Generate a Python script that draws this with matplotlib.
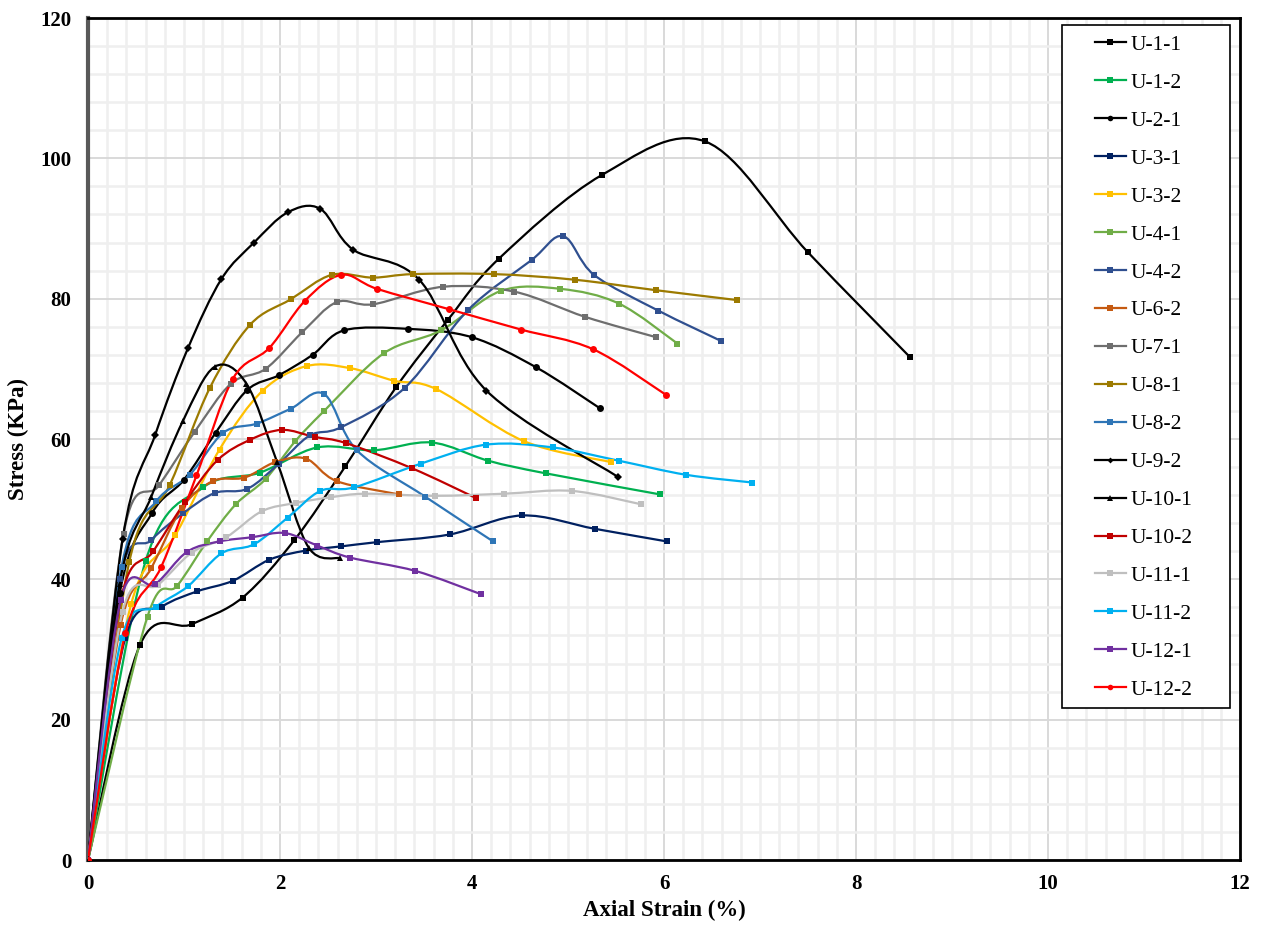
"""Stress vs axial strain curves for the U-series samples"""

import numpy as np
import matplotlib
matplotlib.use("Agg")
import matplotlib.pyplot as plt
from matplotlib.path import Path
from matplotlib.patches import PathPatch, Rectangle
from matplotlib.lines import Line2D
from matplotlib.ticker import MultipleLocator

# ---- data (strain %, stress kPa) ----
u1_1_x = [0, 0.54, 1.08, 1.61, 2.15, 2.68, 3.21, 3.75, 4.28, 5.35, 6.43, 7.50, 8.56]
u1_1_y = [0, 30.6, 33.6, 37.4, 45.6, 56.1, 67.4, 77.0, 85.7, 97.6, 102.4, 86.6, 71.7]

u1_2_x = [0, 0.60, 1.20, 1.79, 2.39, 2.98, 3.58, 4.17, 4.77, 5.96]
u1_2_y = [0, 42.6, 53.1, 55.2, 58.8, 58.4, 59.5, 56.9, 55.1, 52.1]

u2_1_x = [0, 0.33, 0.67, 1.00, 1.33, 1.66, 1.99, 2.34, 2.67, 3.33, 4.00, 4.67, 5.33]
u2_1_y = [0, 38.0, 49.5, 54.2, 60.9, 67.0, 69.1, 72.0, 75.5, 75.7, 74.5, 70.2, 64.4]

u3_1_x = [0, 0.39, 0.77, 1.14, 1.51, 1.89, 2.27, 2.64, 3.01, 3.77, 4.52, 5.28, 6.03]
u3_1_y = [0, 31.7, 36.1, 38.3, 39.8, 42.8, 44.1, 44.7, 45.3, 46.4, 49.1, 47.2, 45.4]

u3_2_x = [0, 0.45, 0.91, 1.37, 1.82, 2.28, 2.73, 3.19, 3.63, 4.54, 5.45]
u3_2_y = [0, 36.5, 46.3, 58.5, 66.9, 70.4, 70.1, 68.3, 67.1, 59.7, 56.7]

u4_1_x = [0, 0.62, 0.93, 1.24, 1.54, 1.85, 2.16, 2.46, 3.08, 3.68, 4.30, 4.92, 5.53, 6.14]
u4_1_y = [0, 34.7, 39.1, 45.4, 50.7, 54.3, 59.7, 64.0, 72.2, 75.5, 81.1, 81.4, 79.3, 73.6]

u4_2_x = [0, 0.33, 0.66, 0.99, 1.32, 1.66, 1.99, 2.31, 2.64, 3.30, 3.96, 4.62, 4.95, 5.27,
          5.94, 6.59]
u4_2_y = [0, 40.0, 45.6, 49.4, 52.3, 52.9, 56.5, 60.5, 61.7, 67.3, 78.4, 85.5, 88.9, 83.4,
          78.3, 74.0]

u6_2_x = [0, 0.34, 0.66, 0.98, 1.30, 1.63, 1.95, 2.27, 2.59, 3.24]
u6_2_y = [0, 33.5, 41.6, 50.2, 54.0, 54.5, 56.7, 57.2, 54.0, 52.1]

u7_1_x = [0, 0.37, 0.74, 1.11, 1.49, 1.85, 2.23, 2.59, 2.97, 3.70, 4.44, 5.18, 5.92]
u7_1_y = [0, 46.5, 53.4, 61.0, 67.9, 70.0, 75.2, 79.5, 79.2, 81.7, 81.0, 77.4, 74.5]

u8_1_x = [0, 0.43, 0.85, 1.27, 1.69, 2.11, 2.54, 2.97, 3.39, 4.23, 5.07, 5.92, 6.76]
u8_1_y = [0, 42.5, 53.4, 67.3, 76.3, 79.9, 83.4, 83.0, 83.5, 83.5, 82.7, 81.2, 79.8]

u8_2_x = [0, 0.35, 0.71, 1.06, 1.41, 1.76, 2.11, 2.46, 2.80, 3.51, 4.22]
u8_2_y = [0, 41.8, 51.1, 54.9, 60.9, 62.2, 64.3, 66.4, 58.4, 51.8, 45.4]

u9_2_x = [0, 0.36, 0.70, 1.04, 1.39, 1.73, 2.08, 2.42, 2.76, 3.45, 4.15, 5.52]
u9_2_y = [0, 45.7, 60.6, 72.9, 82.8, 88.0, 92.3, 92.8, 87.0, 82.7, 66.9, 54.6]

u10_1_x = [0, 0.33, 0.66, 0.99, 1.32, 1.65, 1.97, 2.30, 2.63]
u10_1_y = [0, 39.4, 51.8, 62.6, 70.3, 67.9, 56.7, 44.5, 43.0]

u10_2_x = [0, 0.34, 0.68, 1.01, 1.35, 1.69, 2.02, 2.36, 2.69, 3.38, 4.04]
u10_2_y = [0, 37.0, 44.0, 51.0, 57.0, 59.9, 61.3, 60.3, 59.4, 55.8, 51.6]

u11_1_x = [0, 0.36, 0.73, 1.08, 1.44, 1.81, 2.17, 2.53, 2.89, 3.61, 4.33, 5.04, 5.76]
u11_1_y = [0, 35.4, 39.2, 43.8, 46.0, 49.7, 50.9, 51.7, 52.2, 51.9, 52.2, 52.6, 50.7]

u11_2_x = [0, 0.35, 0.71, 1.04, 1.39, 1.73, 2.08, 2.42, 2.77, 3.47, 4.15, 4.84, 5.53,
           6.23, 6.92]
u11_2_y = [0, 31.6, 36.1, 39.0, 43.7, 45.0, 48.8, 52.6, 53.1, 56.5, 59.2, 58.8, 56.9,
           54.9, 53.8]

u12_1_x = [0, 0.34, 0.70, 1.03, 1.37, 1.71, 2.05, 2.39, 2.73, 3.41, 4.09]
u12_1_y = [0, 37.0, 39.3, 43.9, 45.4, 46.0, 46.6, 44.8, 43.1, 41.2, 37.9]

u12_2_x = [0, 0.39, 0.76, 1.13, 1.51, 1.89, 2.26, 2.64, 3.01, 3.76, 4.51, 5.26, 6.02]
u12_2_y = [0, 32.3, 41.7, 54.8, 68.6, 73.0, 79.7, 83.4, 81.4, 78.5, 75.6, 72.8, 66.3]

# (label, x, y, colour, marker, marker size)
series = [
    ("U-1-1", u1_1_x, u1_1_y, "#000000", "s", 5),
    ("U-1-2", u1_2_x, u1_2_y, "#00B050", "s", 5),
    ("U-2-1", u2_1_x, u2_1_y, "#000000", "o", 5),
    ("U-3-1", u3_1_x, u3_1_y, "#002060", "s", 5),
    ("U-3-2", u3_2_x, u3_2_y, "#FFC000", "s", 5),
    ("U-4-1", u4_1_x, u4_1_y, "#70AD47", "s", 5),
    ("U-4-2", u4_2_x, u4_2_y, "#2F4F8F", "s", 5),
    ("U-6-2", u6_2_x, u6_2_y, "#C55A11", "s", 5),
    ("U-7-1", u7_1_x, u7_1_y, "#6E6E6E", "s", 5),
    ("U-8-1", u8_1_x, u8_1_y, "#9C7A00", "s", 5),
    ("U-8-2", u8_2_x, u8_2_y, "#2E75B6", "s", 5),
    ("U-9-2", u9_2_x, u9_2_y, "#000000", "D", 4),
    ("U-10-1", u10_1_x, u10_1_y, "#000000", "^", 5),
    ("U-10-2", u10_2_x, u10_2_y, "#C00000", "s", 5),
    ("U-11-1", u11_1_x, u11_1_y, "#BFBFBF", "s", 5),
    ("U-11-2", u11_2_x, u11_2_y, "#00B0F0", "s", 5),
    ("U-12-1", u12_1_x, u12_1_y, "#7030A0", "s", 5),
    ("U-12-2", u12_2_x, u12_2_y, "#FF0000", "o", 5),
]


def smooth_path(xs, ys):
    """Excel-like smoothed line: cubic Bezier segments through the points"""
    p = np.column_stack([xs, ys]).astype(float)
    n = len(p)
    verts = [p[0]]
    codes = [Path.MOVETO]
    for i in range(n - 1):
        p0 = p[i - 1] if i > 0 else p[i]
        p3 = p[i + 2] if i + 2 < n else p[i + 1]
        c1 = p[i] + (p[i + 1] - p0) / 6.0
        c2 = p[i + 1] - (p3 - p[i]) / 6.0
        verts += [c1, c2, p[i + 1]]
        codes += [Path.CURVE4] * 3
    return Path(verts, codes)


plt.rcParams['font.family'] = ['Liberation Serif', 'DejaVu Serif']

fig = plt.figure(figsize=(12.64, 9.31), dpi=100)
ax = fig.add_axes([88 / 1264, 71 / 931, 1152 / 1264, 842 / 931])

handles = []
for label, xs, ys, color, marker, ms in series:
    ax.add_patch(PathPatch(smooth_path(xs, ys), facecolor='none', edgecolor=color,
                           linewidth=1.6, zorder=3))
    ax.plot(xs, ys, linestyle='none', marker=marker, markersize=ms, color=color,
            markeredgewidth=0, zorder=4)
    handles.append(Line2D([], [], color=color, linewidth=1.6, marker=marker,
                          markersize=ms - 1, markeredgewidth=0, label=label))

ax.set_xlim(0, 12)
ax.set_ylim(0, 120)
ax.xaxis.set_major_locator(MultipleLocator(2))
ax.xaxis.set_minor_locator(MultipleLocator(0.2))
ax.yaxis.set_major_locator(MultipleLocator(20))
ax.yaxis.set_minor_locator(MultipleLocator(4))
ax.grid(True, which='minor', color='#EFEFEF', linewidth=1.8, zorder=0)
ax.grid(True, which='major', color='#D9D9D9', linewidth=1.4, zorder=0)
ax.set_axisbelow(True)
ax.tick_params(which='both', length=0)
ax.tick_params(axis='x', pad=10, labelsize=15)
ax.tick_params(axis='y', pad=12, labelsize=15)
for lab in ax.get_xticklabels() + ax.get_yticklabels():
    lab.set_fontweight('bold')

for side in ['top', 'right', 'bottom']:
    ax.spines[side].set_color('black')
    ax.spines[side].set_linewidth(2)
ax.spines['left'].set_color('#595959')
ax.spines['left'].set_linewidth(3)

ax.set_xlabel('Axial Strain (%)', fontsize=16.5, fontweight='bold', labelpad=4)
ax.set_ylabel('Stress (KPa)', fontsize=16.5, fontweight='bold', labelpad=8)

# legend box drawn separately so its padding matches the original
ax.add_patch(Rectangle((0.8455, 0.1805), 0.1458, 0.8112, transform=ax.transAxes,
                       facecolor='white', edgecolor='black', linewidth=1.2, zorder=9))
leg = ax.legend(handles=handles, loc='upper left', bbox_to_anchor=(0.874, 0.980),
                borderaxespad=0, borderpad=0, fontsize=15.5, frameon=False,
                labelspacing=0.83, handlelength=1.45, handletextpad=0.2)
leg.set_zorder(10)

fig.savefig('out.png', dpi=100)
